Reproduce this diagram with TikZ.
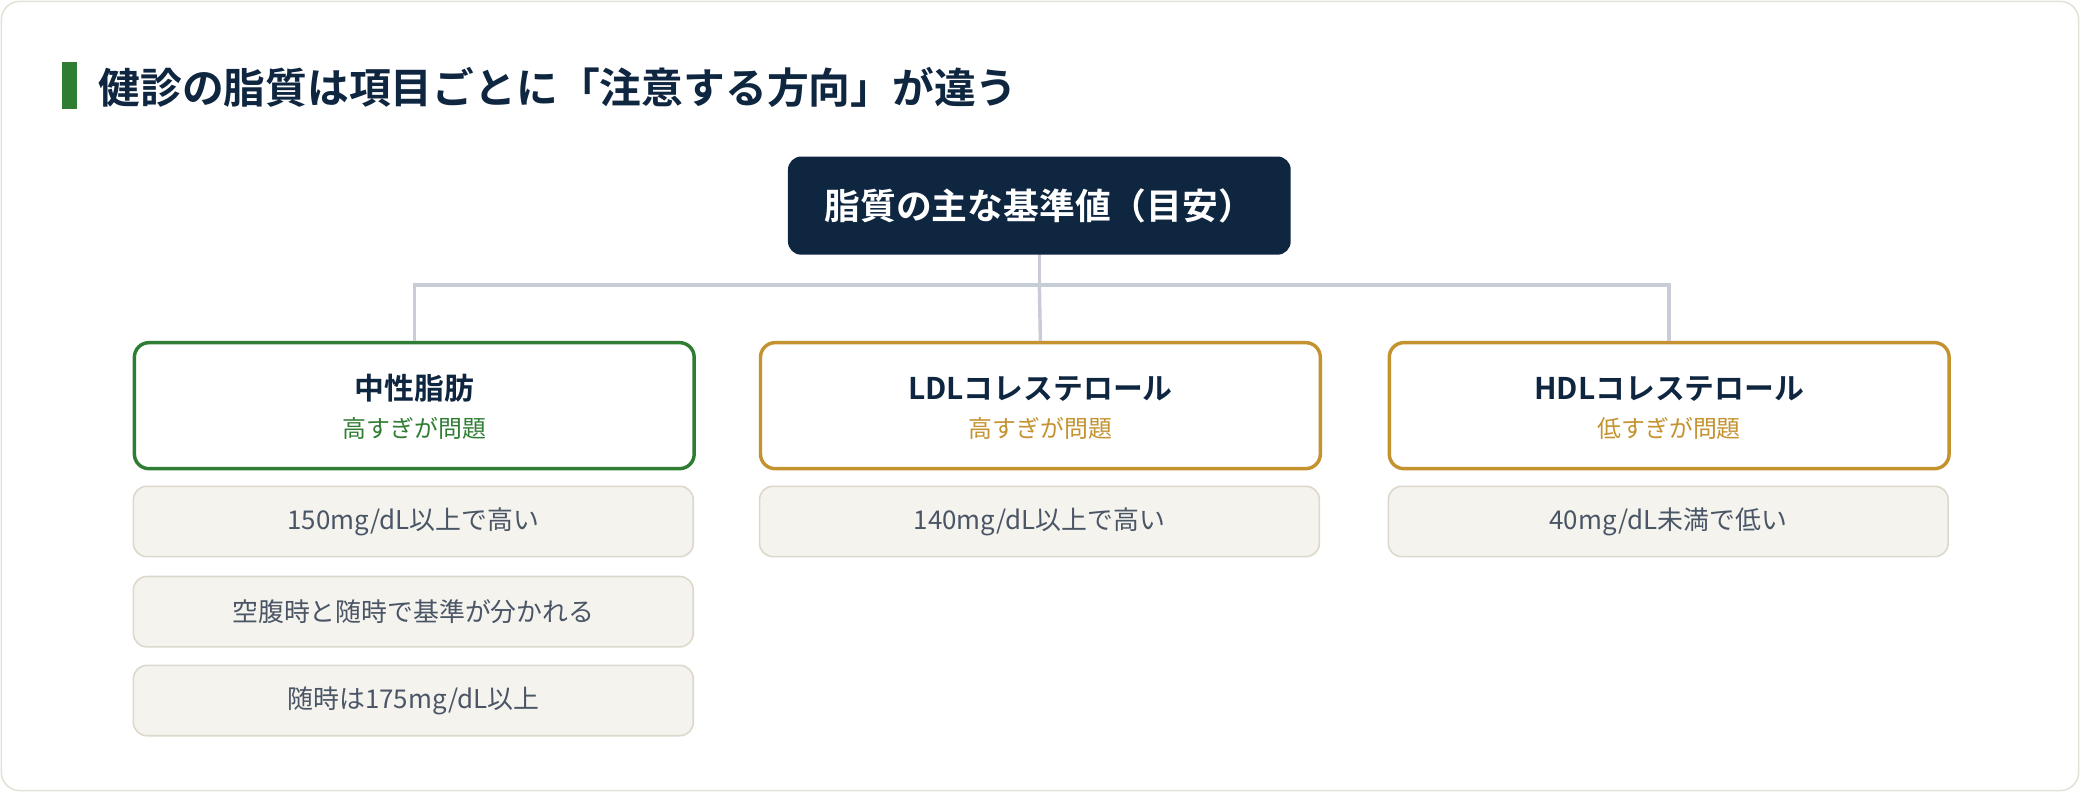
\documentclass[tikz,border=0pt]{standalone}
\usepackage{fontspec}
\setmainfont{Noto Sans CJK JP}[BoldFont={* Bold}]
\definecolor{navy}{HTML}{0F2640}
\definecolor{grn}{HTML}{2E7D32}
\definecolor{gold}{HTML}{C4922F}
\definecolor{line}{HTML}{C8CCD6}
\definecolor{dfill}{HTML}{F4F3EE}
\definecolor{dbord}{HTML}{DCD9CC}
\definecolor{dtext}{HTML}{4A5566}
\definecolor{card}{HTML}{E4E2D6}
\begin{document}
\begin{tikzpicture}[x=1pt,y=-1pt,
 cat/.style={draw=#1,line width=2.6pt,rounded corners=11pt,fill=white,minimum width=422pt,minimum height=95pt,anchor=north west,inner sep=0pt},
 det/.style={draw=dbord,line width=1.2pt,rounded corners=10pt,fill=dfill,minimum width=422pt,minimum height=53pt,anchor=north west,text=dtext,font=\fontsize{19.5}{22}\selectfont},
 conn/.style={draw=line,line width=2.6pt}]
\useasboundingbox (0,0) rectangle (1568,597);
\draw[card,line width=1.2pt,fill=white,rounded corners=14pt] (1,1) rectangle (1567,596);
\fill[grn] (47,47) rectangle (58,82);
\node[anchor=west,text=navy,font=\bfseries\fontsize{31.5}{34}\selectfont,inner sep=0pt] (title) at (74,66) {健診の脂質は項目ごとに「注意する方向」が違う};
\coordinate (j) at (783.5,215);
\node[cat=grn] (c1) at (100,257) {};
\node[cat=gold] (c2) at (572,257) {};
\node[cat=gold] (c3) at (1046,257) {};
\draw[conn] (783.5,180) -- (j);
\draw[conn] (c1.north) |- (j) -| (c3.north);
\draw[conn] (j) -- (c2.north);
\node[fill=navy,rounded corners=10pt,minimum width=379pt,minimum height=74pt,text=white,font=\bfseries\fontsize{27}{30}\selectfont,inner sep=0pt] (top) at (783.5,155) {脂質の主な基準値（目安）};
\foreach \n/\t/\s/\c in {c1/中性脂肪/高すぎが問題/grn, c2/LDLコレステロール/高すぎが問題/gold, c3/HDLコレステロール/低すぎが問題/gold}{
 \node[text=navy,font=\bfseries\fontsize{22.5}{25}\selectfont] (\n t) at ([yshift=-36pt]\n.north) {\t};
 \node[text=\c,font=\fontsize{18}{20}\selectfont] (\n s) at ([yshift=-66pt]\n.north) {\s};
}
\node[det] (d11) at (100,366) {150mg/dL以上で高い};
\node[det] (d12) at (100,434) {空腹時と随時で基準が分かれる};
\node[det] (d13) at (100,501) {随時は175mg/dL以上};
\node[det] (d21) at (572,366) {140mg/dL以上で高い};
\node[det] (d31) at (1046,366) {40mg/dL未満で低い};
\end{tikzpicture}
\end{document}
